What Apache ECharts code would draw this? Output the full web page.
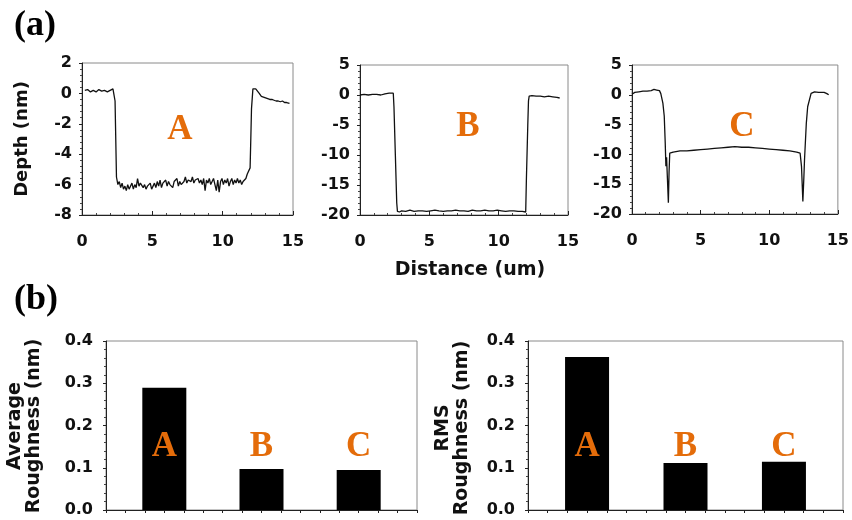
<!DOCTYPE html>
<html><head><meta charset="utf-8">
<script src="https://cdn.jsdelivr.net/npm/echarts@6/dist/echarts.min.js"></script>
<style>html,body{margin:0;padding:0;background:#fff}#c{width:852px;height:520px}</style>
</head><body><div id="c"></div>
<script>
// ---- data ----
var profileA = [[0.2,0.2],[0.4,0.25],[0.6,0.1],[0.8,0.2],[1.0,0.1],[1.2,0.25],[1.4,0.15],[1.6,0.2],[1.8,0.1],[2.0,0.2],[2.2,0.3],[2.3,0.35],[2.35,-0.5],[2.4,-3.0],[2.45,-5.5],[2.5,-5.6],[2.55,-6.0],[2.65,-5.8],[2.75,-6.2],[2.85,-5.9],[2.95,-6.3],[3.05,-6.1],[3.15,-6.4],[3.25,-6.0],[3.35,-6.3],[3.45,-6.2],[3.55,-5.9],[3.65,-6.3],[3.75,-6.0],[3.85,-6.2],[3.95,-5.6],[4.05,-6.1],[4.15,-5.9],[4.25,-6.0],[4.35,-6.2],[4.45,-6.0],[4.55,-6.3],[4.65,-6.1],[4.75,-6.2],[4.85,-5.9],[4.95,-6.3],[5.05,-6.1],[5.15,-5.9],[5.25,-6.2],[5.35,-5.8],[5.45,-6.1],[5.55,-5.7],[5.65,-6.2],[5.75,-5.9],[5.85,-6.0],[5.95,-5.7],[6.05,-6.1],[6.15,-5.8],[6.25,-6.0],[6.35,-5.9],[6.45,-6.2],[6.55,-5.8],[6.65,-5.9],[6.75,-5.6],[6.85,-6.1],[6.95,-5.8],[7.05,-6.0],[7.15,-5.9],[7.25,-5.8],[7.35,-5.5],[7.45,-5.9],[7.55,-5.7],[7.65,-5.6],[7.75,-5.8],[7.85,-5.5],[7.95,-5.9],[8.05,-5.7],[8.15,-5.8],[8.25,-5.6],[8.35,-5.9],[8.45,-5.7],[8.55,-6.0],[8.65,-5.6],[8.75,-6.4],[8.85,-5.7],[8.95,-5.9],[9.05,-5.6],[9.15,-6.0],[9.25,-5.8],[9.35,-5.6],[9.45,-6.0],[9.55,-6.4],[9.65,-5.7],[9.75,-6.5],[9.85,-5.8],[9.95,-5.6],[10.05,-6.0],[10.15,-5.7],[10.25,-5.9],[10.35,-5.6],[10.45,-6.1],[10.55,-5.8],[10.65,-5.6],[10.75,-6.0],[10.85,-5.7],[10.95,-5.9],[11.05,-5.6],[11.15,-5.9],[11.25,-5.7],[11.35,-6.0],[11.45,-5.8],[11.55,-5.9],[11.65,-5.6],[11.75,-5.3],[11.85,-5.2],[11.95,-4.9],[12.0,-3.0],[12.05,-1.0],[12.15,0.3],[12.25,0.4],[12.35,0.3],[12.45,0.2],[12.6,0.0],[12.75,-0.2],[12.9,-0.25],[13.05,-0.3],[13.2,-0.35],[13.35,-0.4],[13.5,-0.4],[13.65,-0.45],[13.8,-0.5],[13.95,-0.5],[14.1,-0.55],[14.25,-0.5],[14.4,-0.6],[14.55,-0.6],[14.75,-0.65]];
var profileB = [[0.0,0.0],[0.3,0.1],[0.6,0.0],[0.9,0.1],[1.2,0.1],[1.5,0.0],[1.8,0.2],[2.1,0.3],[2.4,0.3],[2.45,-2],[2.55,-10],[2.65,-18],[2.7,-19.4],[2.85,-19.5],[3.0,-19.3],[3.3,-19.4],[3.6,-19.2],[3.9,-19.4],[4.2,-19.3],[4.5,-19.3],[4.8,-19.4],[5.1,-19.3],[5.4,-19.2],[5.7,-19.3],[6.0,-19.4],[6.3,-19.3],[6.6,-19.3],[6.9,-19.2],[7.2,-19.3],[7.5,-19.3],[7.8,-19.4],[8.1,-19.2],[8.4,-19.3],[8.7,-19.3],[9.0,-19.2],[9.3,-19.3],[9.6,-19.3],[9.9,-19.2],[10.2,-19.3],[10.5,-19.4],[10.8,-19.3],[11.1,-19.3],[11.4,-19.4],[11.7,-19.4],[11.95,-19.5],[12.0,-14],[12.1,-5],[12.15,-1],[12.2,-0.2],[12.4,-0.1],[12.7,-0.2],[13.0,-0.2],[13.3,-0.3],[13.6,-0.2],[13.9,-0.3],[14.2,-0.4],[14.4,-0.5]];
var profileC = [[0.0,0.1],[0.2,0.4],[0.5,0.5],[0.8,0.6],[1.1,0.6],[1.4,0.7],[1.6,0.9],[1.8,0.8],[2.0,0.7],[2.1,0.2],[2.25,-1.4],[2.35,-3.6],[2.42,-8],[2.47,-12],[2.52,-10.5],[2.58,-14],[2.65,-18.1],[2.7,-13],[2.75,-9.8],[2.8,-9.6],[3.0,-9.6],[3.5,-9.4],[4.0,-9.4],[4.5,-9.3],[5.0,-9.2],[5.5,-9.1],[6.0,-9.0],[6.5,-8.9],[7.0,-8.8],[7.5,-8.7],[8.0,-8.8],[8.5,-8.8],[9.0,-8.9],[9.5,-9.0],[10.0,-9.1],[10.5,-9.2],[11.0,-9.3],[11.5,-9.4],[12.0,-9.6],[12.25,-9.8],[12.35,-12],[12.45,-17.9],[12.52,-14],[12.57,-10.9],[12.7,-4.8],[12.8,-2.0],[13.05,0.25],[13.3,0.5],[13.6,0.4],[14.0,0.4],[14.2,0.2],[14.33,0.0]];

var sampleNames = ['A', 'B', 'C'];
var barSlots = [3, 8, 13];               // x slots of bars on the bar charts' axis
var avgRoughness = [0.2896, 0.097, 0.0947];
var rmsRoughness = [0.362, 0.111, 0.114];
var labelLevel = 0.15;                   // height of the A/B/C labels on the bar charts

// ---- chart ----
var ORANGE = '#E46C0A';
var SANS = 'DejaVu Sans';
var SERIF = 'Liberation Serif';

function topX(i) {
  return {
    type: 'value', gridIndex: i, min: 0, max: 15, interval: 5,
    axisLine: {onZero: false, lineStyle: {color: '#222', width: 1}},
    axisTick: {inside: true, length: 4, lineStyle: {color: '#222'}},
    minorTick: {show: true, splitNumber: 5, length: 2, lineStyle: {color: '#444'}},
    splitLine: {show: false},
    axisLabel: {fontFamily: SANS, fontWeight: 'bold', fontSize: 16, color: '#111', margin: 19}
  };
}
function topY(i, mn, mx, iv) {
  return {
    type: 'value', gridIndex: i, min: mn, max: mx, interval: iv,
    axisLine: {show: true, onZero: false, lineStyle: {color: '#222', width: 1}},
    axisTick: {show: true, length: 3, lineStyle: {color: '#222'}},
    minorTick: {show: true, splitNumber: 5, length: 2, lineStyle: {color: '#444'}},
    splitLine: {show: false},
    axisLabel: {fontFamily: SANS, fontWeight: 'bold', fontSize: 16, color: '#111', margin: 10}
  };
}
function barX(i) {
  return {
    type: 'value', gridIndex: i, min: 0, max: 16, interval: 1,
    axisLine: {onZero: false, lineStyle: {color: '#222', width: 1}},
    axisTick: {show: true, length: 3, lineStyle: {color: '#222'}},
    axisLabel: {show: false},
    splitLine: {show: false}
  };
}
function barY(i) {
  return {
    type: 'value', gridIndex: i, min: 0, max: 0.4, interval: 0.1,
    axisLine: {show: true, onZero: false, lineStyle: {color: '#222', width: 1}},
    axisTick: {show: true, length: 3, lineStyle: {color: '#222'}},
    minorTick: {show: true, splitNumber: 5, length: 2, lineStyle: {color: '#444'}},
    splitLine: {show: false},
    axisLabel: {fontFamily: SANS, fontWeight: 'bold', fontSize: 16, color: '#111', margin: 13,
      formatter: function (v) { return v.toFixed(1); }}
  };
}
function lineSeries(i, data) {
  return {type: 'line', xAxisIndex: i, yAxisIndex: i, data: data, showSymbol: false,
    symbol: 'none', lineStyle: {color: '#111', width: 1.3}, silent: true, animation: false};
}
function barSeries(i, vals) {
  return {type: 'bar', xAxisIndex: i, yAxisIndex: i, barWidth: 44,
    data: vals.map(function (v, k) { return [barSlots[k], v]; }),
    itemStyle: {color: '#000'}, animation: false};
}
function labelSeries(i) {
  return {type: 'scatter', xAxisIndex: i, yAxisIndex: i, symbolSize: 1,
    itemStyle: {color: 'rgba(0,0,0,0)', opacity: 1}, animation: false, silent: true, z: 5,
    data: sampleNames.map(function (n, k) { return [barSlots[k], labelLevel, n]; }),
    label: {show: true, position: 'inside', opacity: 1, formatter: function (p) { return p.value[2]; },
      fontFamily: SERIF, fontWeight: 'bold', fontSize: 35, color: ORANGE}};
}
function gtext(x, y, txt, font, size, color, rot, lh) {
  return {type: 'text', x: x, y: y, rotation: rot || 0,
    style: {text: txt, fontFamily: font, fontWeight: 'bold', fontSize: size, fill: color,
      textAlign: 'center', textVerticalAlign: 'middle', lineHeight: lh || size * 1.2}};
}

var gridStyle = {show: true, borderColor: '#8a8a8a', borderWidth: 1, backgroundColor: 'transparent'};
var option = {
  animation: false,
  grid: [
    Object.assign({left: 82, width: 211, top: 63, height: 152}, gridStyle),
    Object.assign({left: 360, width: 208, top: 65, height: 150}, gridStyle),
    Object.assign({left: 632, width: 208, top: 65, height: 149}, gridStyle),
    Object.assign({left: 106, width: 311, top: 341, height: 169}, gridStyle),
    Object.assign({left: 528, width: 315, top: 341, height: 169}, gridStyle)
  ],
  xAxis: [topX(0), topX(1), topX(2), barX(3), barX(4)],
  yAxis: [topY(0, -8, 2, 2), topY(1, -20, 5, 5), topY(2, -20, 5, 5), barY(3), barY(4)],
  series: [
    lineSeries(0, profileA), lineSeries(1, profileB), lineSeries(2, profileC),
    barSeries(3, avgRoughness), barSeries(4, rmsRoughness),
    labelSeries(3), labelSeries(4)
  ],
  graphic: [
    gtext(35, 26, '(a)', SERIF, 36, '#000'),
    gtext(36, 300, '(b)', SERIF, 36, '#000'),
    gtext(22, 139, 'Depth (nm)', SANS, 18, '#111', Math.PI / 2),
    gtext(470, 270, 'Distance (um)', SANS, 19, '#111'),
    gtext(25, 426, 'Average\nRoughness (nm)', SANS, 19, '#111', Math.PI / 2, 19),
    gtext(453, 428, 'RMS\nRoughness (nm)', SANS, 19, '#111', Math.PI / 2, 19),
    gtext(180, 130, 'A', SERIF, 35, ORANGE),
    gtext(468, 127, 'B', SERIF, 35, ORANGE),
    gtext(742, 127, 'C', SERIF, 35, ORANGE)
  ]
};
var chart = echarts.init(document.getElementById('c'), null, {renderer: 'canvas'});
chart.setOption(option);
</script>
</body></html>
